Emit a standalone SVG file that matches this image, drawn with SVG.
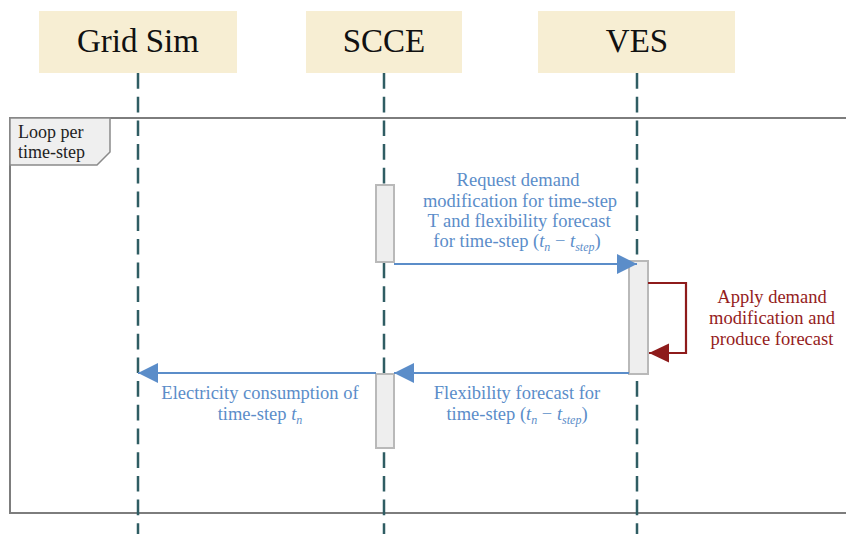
<svg xmlns="http://www.w3.org/2000/svg" width="846" height="534" viewBox="0 0 846 534">
<style>
.hdr{fill:#f7eed3}
.htxt{font-family:"Liberation Serif","Times New Roman",serif;font-size:33px;fill:#111;text-anchor:middle}
.life{stroke:#2f5d63;stroke-width:2.5;stroke-dasharray:15.7 8;fill:none}
.bar{fill:#eeeeee;stroke:#b9b9b9;stroke-width:2}
.msg{stroke:#5b8dc9;stroke-width:2.2;fill:none}
.self{stroke:#8e1b1b;stroke-width:2.2;fill:none}
.bt{font-family:"Liberation Serif","Times New Roman",serif;font-size:18.5px;fill:#5b8dc9;text-anchor:middle}
.rt{font-family:"Liberation Serif","Times New Roman",serif;font-size:18.5px;fill:#951c1c;text-anchor:middle}
.lt{font-family:"Liberation Serif","Times New Roman",serif;font-size:18px;fill:#222}
.it{font-style:italic}
.sub{font-style:italic;font-size:12px}
</style>
<defs>
<marker id="ab" markerUnits="userSpaceOnUse" markerWidth="20" markerHeight="20" viewBox="0 0 18 18" refX="18" refY="9" orient="auto">
<path d="M0,0 L18,9 L0,18 Z" fill="#5b8dc9"/>
</marker>
<marker id="ar" markerUnits="userSpaceOnUse" markerWidth="20" markerHeight="20" viewBox="0 0 17 16" refX="17" refY="8" orient="auto">
<path d="M0,0 L17,8 L0,16 Z" fill="#8e1b1b"/>
</marker>
</defs>
<g id="frame">
<rect x="10" y="118" width="850" height="395" fill="none" stroke="#7d7d7d" stroke-width="2"/>
<path d="M10,118 H110 V152 L97,165 H10 Z" fill="#efefef" stroke="#8a8a8a" stroke-width="1.5"/>
<text class="lt" x="18" y="138">Loop per</text>
<text class="lt" x="18" y="158">time-step</text>
</g>
<g id="lifelines">
<line class="life" x1="138" y1="73" x2="138" y2="534"/>
<line class="life" x1="384" y1="73" x2="384" y2="534"/>
<line class="life" x1="637" y1="73" x2="637" y2="534"/>
</g>
<g id="gridsim">
<rect class="hdr" x="39" y="11" width="198" height="62"/>
<text class="htxt" x="138" y="52">Grid Sim</text>
</g>
<g id="scce">
<rect class="hdr" x="306" y="11" width="156" height="62"/>
<text class="htxt" x="384" y="52">SCCE</text>
</g>
<g id="ves">
<rect class="hdr" x="538" y="11" width="197" height="62"/>
<text class="htxt" x="637" y="52">VES</text>
</g>
<g id="activations">
<rect class="bar" x="376" y="185" width="18" height="77"/>
<rect class="bar" x="629" y="261" width="19" height="113"/>
<rect class="bar" x="376" y="374" width="18" height="74"/>
</g>
<g id="connectors">
<line class="msg" x1="394" y1="264" x2="637" y2="264" marker-end="url(#ab)"/>
<path class="self" d="M648,283 H686 V353 H649" marker-end="url(#ar)"/>
<line class="msg" x1="629" y1="373" x2="394" y2="373" marker-end="url(#ab)"/>
<line class="msg" x1="376" y1="373" x2="138" y2="373" marker-end="url(#ab)"/>
</g>
<g id="labels">
<text class="bt" x="518" y="186">Request demand</text>
<text class="bt" x="520" y="207">modification for time-step</text>
<text class="bt" x="519" y="227">T and flexibility forecast</text>
<text class="bt" x="517" y="247">for time-step (<tspan class="it">t</tspan><tspan class="sub" dy="4">n</tspan><tspan dy="-4"> − </tspan><tspan class="it">t</tspan><tspan class="sub" dy="4">step</tspan><tspan dy="-4">)</tspan></text>
<text class="rt" x="772" y="303">Apply demand</text>
<text class="rt" x="772" y="324">modification and</text>
<text class="rt" x="772" y="345">produce forecast</text>
<text class="bt" x="517" y="399">Flexibility forecast for</text>
<text class="bt" x="517" y="420">time-step (<tspan class="it">t</tspan><tspan class="sub" dy="4">n</tspan><tspan dy="-4"> − </tspan><tspan class="it">t</tspan><tspan class="sub" dy="4">step</tspan><tspan dy="-4">)</tspan></text>
<text class="bt" x="260" y="399">Electricity consumption of</text>
<text class="bt" x="260" y="420">time-step <tspan class="it">t</tspan><tspan class="sub" dy="4">n</tspan></text>
</g>
</svg>
